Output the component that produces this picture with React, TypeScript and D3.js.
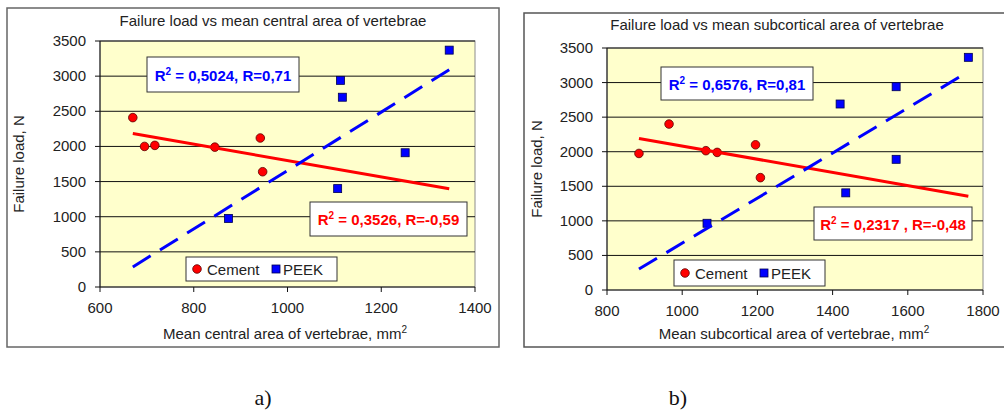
import React from "react";
import * as d3 from "d3";

// measured values
const centralCementX = [670, 695, 717, 845, 942, 947];
const centralCementY = [2410, 2000, 2015, 1990, 2120, 1640];
const centralPeekX = [874, 1107, 1113, 1117, 1251, 1345];
const centralPeekY = [975, 1400, 2940, 2700, 1910, 3370];

const subCementX = [885, 965, 1063, 1093, 1195, 1208];
const subCementY = [1975, 2400, 2015, 1990, 2100, 1625];
const subPeekX = [1066, 1420, 1435, 1569, 1569, 1761];
const subPeekY = [965, 2690, 1405, 2940, 1890, 3365];

const yTicks = [0, 500, 1000, 1500, 2000, 2500, 3000, 3500];
const centralXTicks = [600, 800, 1000, 1200, 1400];
const subXTicks = [800, 1000, 1200, 1400, 1600, 1800];

const centralStats = { peek: ["0,5024", "0,71"], cement: ["0,3526", "-0,59"] };
const subStats = { peek: ["0,6576", "0,81"], cement: ["0,2317 ", "-0,48"] };

const FONT = "'Liberation Sans', Arial, sans-serif";

function linreg(xs: number[], ys: number[]) {
  const mx = d3.mean(xs)!;
  const my = d3.mean(ys)!;
  let sxy = 0, sxx = 0;
  xs.forEach((x, i) => {
    sxy += (x - mx) * (ys[i] - my);
    sxx += (x - mx) * (x - mx);
  });
  const slope = sxy / sxx;
  return (x: number) => my + slope * (x - mx);
}

type Box = { x: number; y: number; w: number; h: number };

interface ChartProps {
  frame: Box;
  frameRightOpen?: boolean;
  plot: Box;
  title: string;
  titleY: number;
  titleX: number;
  xLabel: string;
  xLabelX: number;
  yLabelX: number;
  xTicks: number[];
  cx: number[];
  cy: number[];
  px: number[];
  py: number[];
  stats: { peek: string[]; cement: string[] };
  peekBox: Box;
  cementBox: Box;
  legendBox: Box;
}

const RText = ({ box, vals, color }: { box: Box; vals: string[]; color: string }) => (
  <g>
    <rect x={box.x} y={box.y} width={box.w} height={box.h} fill="white" stroke="#333" strokeWidth={1} />
    <text
      x={box.x + box.w / 2}
      y={box.y + box.h / 2 + 6}
      textAnchor="middle"
      fontFamily={FONT}
      fontWeight="bold"
      fontSize={15}
      fill={color}
    >
      R<tspan dy={-6} fontSize={10}>2</tspan>
      <tspan dy={6}>{` = ${vals[0]}, R=${vals[1]}`}</tspan>
    </text>
  </g>
);

const Chart = (p: ChartProps) => {
  const x = d3.scaleLinear().domain([p.xTicks[0], p.xTicks[p.xTicks.length - 1]]).range([p.plot.x, p.plot.x + p.plot.w]);
  const y = d3.scaleLinear().domain([0, 3500]).range([p.plot.y + p.plot.h, p.plot.y]);
  const allX = [...p.cx, ...p.px];
  const [x0, x1] = d3.extent(allX) as [number, number];
  const fc = linreg(p.cx, p.cy);
  const fp = linreg(p.px, p.py);
  const line = d3.line<[number, number]>().x((d) => x(d[0])).y((d) => y(d[1]));
  const bottom = p.plot.y + p.plot.h;
  const right = p.plot.x + p.plot.w;
  const lb = p.legendBox;
  const ly = lb.y + lb.h / 2;

  return (
    <g>
      {p.frameRightOpen ? (
        <path
          d={`M${p.frame.x + p.frame.w},${p.frame.y}H${p.frame.x}V${p.frame.y + p.frame.h}H${p.frame.x + p.frame.w}`}
          fill="white"
          stroke="#555"
          strokeWidth={1.5}
        />
      ) : (
        <rect x={p.frame.x} y={p.frame.y} width={p.frame.w} height={p.frame.h} fill="white" stroke="#666" strokeWidth={1.5} />
      )}
      <text x={p.titleX} y={p.titleY} textAnchor="middle" fontFamily={FONT} fontSize={15} fill="#222">
        {p.title}
      </text>
      <rect x={p.plot.x} y={p.plot.y} width={p.plot.w} height={p.plot.h} fill="#FFFFCC" stroke="#8c8c8c" strokeWidth={1} />
      {yTicks.map((t) => (
        <g key={t}>
          {t > 0 && <line x1={p.plot.x} x2={right} y1={y(t)} y2={y(t)} stroke="#111" strokeWidth={1} />}
          <line x1={p.plot.x - 5} x2={p.plot.x} y1={y(t)} y2={y(t)} stroke="#111" />
          <text x={p.plot.x - 14} y={y(t) + 5} textAnchor="end" fontFamily={FONT} fontSize={15} fill="#222">
            {t}
          </text>
        </g>
      ))}
      {p.xTicks.map((t) => (
        <g key={t}>
          <line x1={x(t)} x2={x(t)} y1={bottom} y2={bottom + 5} stroke="#111" />
          <text x={x(t)} y={bottom + 26} textAnchor="middle" fontFamily={FONT} fontSize={15} fill="#222">
            {t}
          </text>
        </g>
      ))}
      <line x1={p.plot.x} x2={p.plot.x} y1={p.plot.y} y2={bottom} stroke="#111" />
      <line x1={p.plot.x} x2={right} y1={bottom} y2={bottom} stroke="#111" />
      <text x={p.xLabelX} y={p.frame.y + p.frame.h - 8} textAnchor="middle" fontFamily={FONT} fontSize={15} fill="#222">
        {p.xLabel}
        <tspan dy={-6} fontSize={10}>2</tspan>
      </text>
      <text
        transform={`translate(${p.yLabelX},${p.plot.y + p.plot.h / 2}) rotate(-90)`}
        textAnchor="middle"
        fontFamily={FONT}
        fontSize={15}
        fill="#222"
      >
        Failure load, N
      </text>

      {p.cx.map((v, i) => (
        <circle key={"c" + i} cx={x(v)} cy={y(p.cy[i])} r={4.3} fill="#FF0000" stroke="#5a0000" strokeWidth={0.8} />
      ))}
      {p.px.map((v, i) => (
        <rect key={"p" + i} x={x(v) - 4} y={y(p.py[i]) - 4} width={8} height={8} fill="#0000FF" stroke="#000050" strokeWidth={0.8} />
      ))}

      <path d={line([[x0, fc(x0)], [x1, fc(x1)]])!} stroke="#FF0000" strokeWidth={3} fill="none" />
      <path d={line([[x0, fp(x0)], [x1, fp(x1)]])!} stroke="#0000FF" strokeWidth={3} fill="none" strokeDasharray="21 11" />

      <RText box={p.peekBox} vals={p.stats.peek} color="#0000FF" />
      <RText box={p.cementBox} vals={p.stats.cement} color="#FF0000" />

      <rect x={lb.x} y={lb.y} width={lb.w} height={lb.h} fill="white" stroke="#333" strokeWidth={1} />
      <circle cx={lb.x + 11} cy={ly} r={4.3} fill="#FF0000" stroke="#5a0000" strokeWidth={0.8} />
      <text x={lb.x + 21} y={ly + 5.5} fontFamily={FONT} fontSize={15} fill="#222">
        Cement
      </text>
      <rect x={lb.x + 86} y={ly - 4} width={8} height={8} fill="#0000FF" stroke="#000050" strokeWidth={0.8} />
      <text x={lb.x + 97} y={ly + 5.5} fontFamily={FONT} fontSize={15} fill="#222">
        PEEK
      </text>
    </g>
  );
};

export default function App() {
  return (
    <svg width={1004} height={416} style={{ position: "absolute", left: 0, top: 0, background: "white" }}>
      <Chart
        frame={{ x: 7, y: 8, w: 492, h: 339 }}
        plot={{ x: 100, y: 41, w: 375, h: 246 }}
        title="Failure load vs mean central area of vertebrae"
        titleX={273}
        titleY={26}
        xLabel="Mean central area of vertebrae, mm"
        xLabelX={285}
        yLabelX={24}
        xTicks={centralXTicks}
        cx={centralCementX}
        cy={centralCementY}
        px={centralPeekX}
        py={centralPeekY}
        stats={centralStats}
        peekBox={{ x: 147, y: 57, w: 152, h: 35 }}
        cementBox={{ x: 310, y: 202, w: 157, h: 34 }}
        legendBox={{ x: 186, y: 257, w: 151, h: 24 }}
      />
      <Chart
        frame={{ x: 524, y: 13, w: 490, h: 334 }}
        frameRightOpen
        plot={{ x: 607, y: 48, w: 376, h: 242 }}
        title="Failure load vs mean subcortical area of vertebrae"
        titleX={777}
        titleY={30}
        xLabel="Mean subcortical area of vertebrae, mm"
        xLabelX={794}
        yLabelX={542}
        xTicks={subXTicks}
        cx={subCementX}
        cy={subCementY}
        px={subPeekX}
        py={subPeekY}
        stats={subStats}
        peekBox={{ x: 661, y: 67, w: 152, h: 33 }}
        cementBox={{ x: 814, y: 207, w: 158, h: 33 }}
        legendBox={{ x: 674, y: 260, w: 151, h: 26 }}
      />
      <text x={263} y={405} textAnchor="middle" fontFamily="'Liberation Serif', serif" fontSize={22} fill="#111">
        a)
      </text>
      <text x={678} y={405} textAnchor="middle" fontFamily="'Liberation Serif', serif" fontSize={22} fill="#111">
        b)
      </text>
    </svg>
  );
}
